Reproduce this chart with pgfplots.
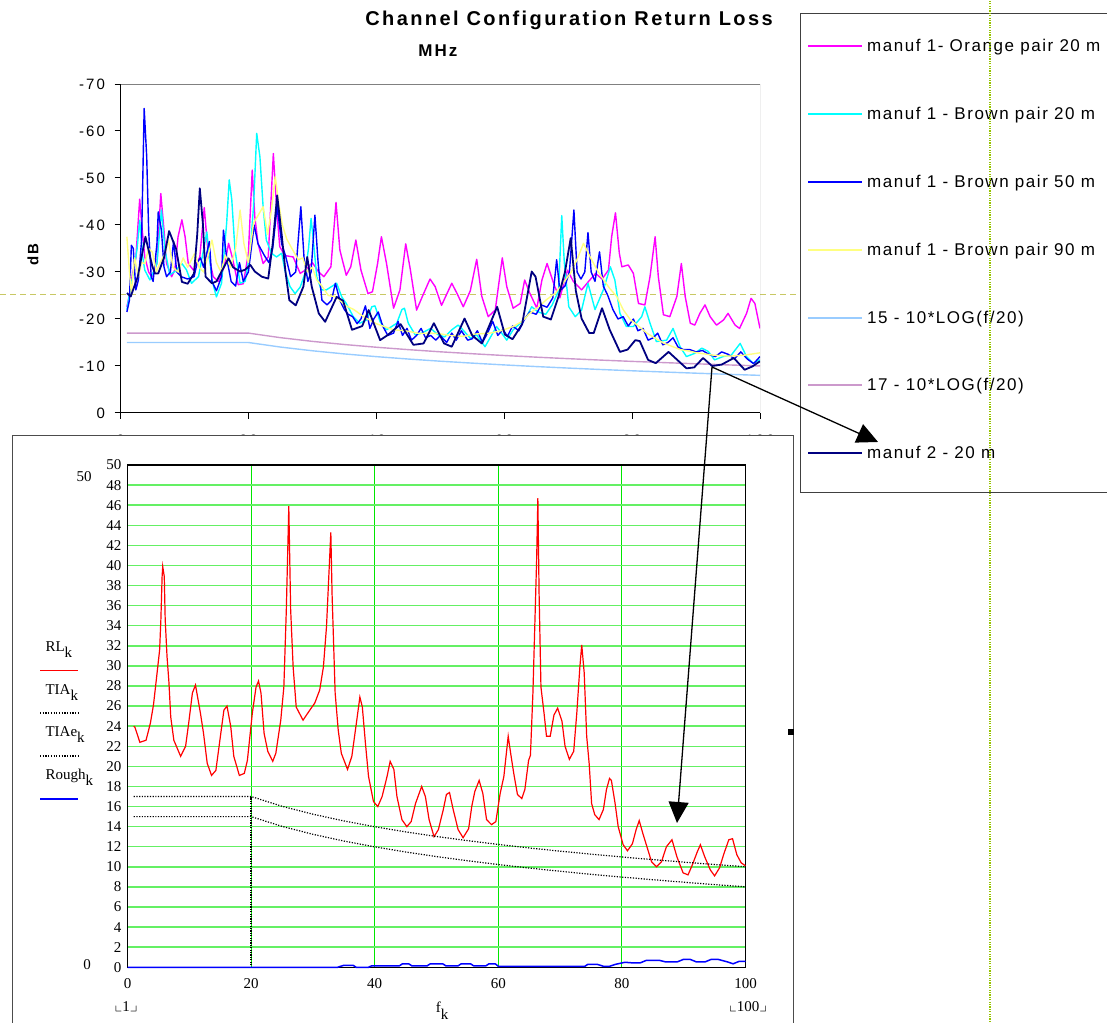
\documentclass[border=0pt]{standalone}
\usepackage{amssymb}
\usepackage{fontspec}
\usepackage{pgfplots}
\pgfplotsset{compat=1.18}
\usetikzlibrary{arrows.meta}
\setmainfont{Liberation Serif}
\newfontfamily\xls[LetterSpace=9]{Liberation Sans}
\newfontfamily\xlt[LetterSpace=12]{Liberation Sans}
\newfontfamily\xlk[LetterSpace=14]{Liberation Sans}
\definecolor{mag}{HTML}{FF00FF}
\definecolor{cyn}{HTML}{00FFFF}
\definecolor{blu}{HTML}{0000FF}
\definecolor{yel}{HTML}{FFFF80}
\definecolor{lbl}{HTML}{99CCFF}
\definecolor{plm}{HTML}{CC99CC}
\definecolor{nav}{HTML}{000080}
\definecolor{dashc}{RGB}{200,200,100}
\definecolor{vdot}{RGB}{150,195,0}
\definecolor{gvert}{RGB}{0,230,0}
\definecolor{ghor}{RGB}{100,240,100}
\begin{document}
\begin{tikzpicture}[x=1pt,y=1pt]
\useasboundingbox (0,0) rectangle (1107,1022);
% decorative dashed line
\draw[dashc, dash pattern=on 6pt off 4pt, line width=0.9pt] (0,728) -- (800,728);
% titles
\node[font=\xlt\bfseries\fontsize{20}{24}\selectfont] at (569,1002) {Channel Configuration Return Loss};
\node[font=\xlt\bfseries\fontsize{17}{20}\selectfont] at (438,971) {MHz};
\node[font=\xlt\bfseries\fontsize{15}{18}\selectfont, rotate=90] at (33,767) {dB};
% ---------------- top chart ----------------
\begin{axis}[
  at={(120.5pt,609pt)}, anchor=south west, scale only axis,
  width=639.5pt, height=329pt,
  xmin=0, xmax=100, ymin=-70, ymax=0, y dir=reverse,
  axis x line*=bottom, axis y line*=left,
  axis line style={black, line width=1pt, -},
  xtick={0,20,40,60,80,100}, ytick={-70,-60,-50,-40,-30,-20,-10,0},
  tick align=outside, major tick length=6pt,
  tick style={black, line width=1pt},
  tick label style={font=\xlk\fontsize{15}{18}\selectfont},
  /pgf/number format/assume math mode=true,
  yticklabel style={xshift=-6pt},
  xticklabel style={yshift=-12pt},
  every axis plot/.append style={line width=1.4pt, line join=round},
]
\draw[black!50, line width=1pt] (axis cs:0,-70) -- (axis cs:100,-70) -- (axis cs:100,0);
% manuf 1 - Orange pair 20 m
\addplot[mag] coordinates {(1,-22.6)(1.3,-24.5)(1.8,-29)(2.4,-33)(3.0,-45.5)(3.4,-38.9)(3.8,-33.2)(4.4,-30.0)(4.9,-29.0)(5.7,-31.8)(6.3,-46.7)(6.8,-38.9)(7.2,-31.8)(8.0,-29.0)(8.5,-30.5)(9.0,-37.5)(9.6,-41.1)(10.1,-37.5)(10.6,-31.8)(11.4,-30.4)(12.4,-33.2)(13.1,-43.7)(13.7,-34)(14.5,-29.0)(15.3,-28.0)(16.2,-31)(16.9,-36.1)(17.5,-33)(18.4,-27.3)(19.2,-27.5)(20.0,-34.0)(20.6,-51.7)(21.0,-41.8)(21.5,-36.1)(22.3,-31.8)(23.1,-33.2)(23.9,-55.2)(24.4,-43.9)(24.9,-35.4)(25.7,-33.5)(27.0,-33.2)(28.1,-29.7)(29.0,-30.5)(30.0,-32)(31.0,-30)(31.8,-29)(32.9,-31.1)(33.7,-44.8)(34.3,-34.7)(35.3,-29.3)(36.0,-31.1)(36.8,-36.8)(37.6,-30.4)(38.7,-25.4)(39.4,-25.8)(40.2,-31.8)(40.8,-37.5)(41.6,-31.8)(42.7,-22.3)(43.7,-26.2)(44.6,-36.0)(45.3,-30.7)(46.3,-21.9)(47.3,-25.1)(48.4,-28.5)(49.2,-26.9)(50.2,-22.9)(51.8,-27.6)(52.6,-25.5)(53.6,-22.6)(54.7,-26)(55.7,-32.7)(56.5,-24.8)(57.5,-20.5)(58.6,-21.9)(59.7,-33.0)(60.4,-26.9)(61.4,-22.3)(62.5,-23.3)(63.2,-28.3)(64.0,-25.5)(65.1,-22.3)(65.9,-28.3)(66.7,-31.8)(67.9,-26.9)(68.7,-24.5)(69.9,-30.4)(70.8,-28)(72.1,-26.2)(73.2,-28)(74.3,-29.7)(75.3,-28.5)(76.3,-30.4)(76.8,-37.5)(77.4,-42.6)(78.0,-34.0)(78.4,-31.1)(79.4,-31.5)(80.2,-29.7)(81.0,-23.3)(82.0,-23.0)(82.8,-29.0)(83.6,-37.5)(84.1,-29.0)(84.9,-20.9)(85.9,-20.5)(87.0,-24.8)(87.7,-31.8)(88.3,-24.8)(89.1,-19.1)(89.8,-18.7)(90.6,-21.2)(91.4,-23.0)(92.2,-20.5)(93.2,-18.7)(94.3,-19.8)(95.0,-21.2)(96.1,-18.7)(96.8,-18.0)(97.9,-21.2)(98.6,-24.4)(99.2,-23.3)(100,-18.0)};
% manuf 1 - Brown pair 20 m
\addplot[cyn] coordinates {(1,-22)(1.5,-26)(2.0,-29.7)(2.6,-35)(3.0,-41)(3.5,-33)(3.8,-30.4)(4.6,-28.3)(5.7,-31.8)(6.4,-43.2)(6.96,-34.7)(7.7,-29.4)(8.5,-30.1)(9.6,-31.8)(10.3,-30.5)(11.1,-27.6)(12.2,-29.0)(13.5,-38.5)(14.3,-28.3)(15.0,-24.7)(15.8,-27.6)(16.6,-40.4)(17.0,-49.6)(17.4,-45.4)(17.9,-34.7)(18.7,-27.6)(19.5,-28.0)(20.3,-34.7)(20.8,-43.9)(21.3,-59.5)(21.8,-54.5)(22.3,-43.9)(22.8,-36.8)(23.6,-34.0)(24.4,-33.2)(25.2,-34.0)(25.7,-30.4)(26.5,-26.9)(27.3,-25.4)(28.1,-26.8)(28.85,-29.7)(29.4,-35)(29.8,-41.4)(30.1,-37.5)(30.7,-28.9)(31.4,-26.2)(32.2,-26.2)(33.0,-26.9)(33.8,-27.6)(34.6,-24.7)(35.3,-23.3)(36.4,-20.5)(37.4,-19.1)(38.5,-19.8)(39.3,-22.6)(39.8,-22.8)(40.6,-19.4)(41.6,-17.7)(43.2,-19.1)(44.0,-22.0)(44.4,-22.3)(45.0,-19.1)(46.1,-16.6)(47.1,-17.0)(48.5,-18)(49.7,-16.6)(50.7,-16.2)(51.8,-17.7)(52.8,-18.7)(53.6,-17.6)(54.7,-15.9)(55.7,-16.6)(57.0,-14.1)(58.8,-18.4)(59.6,-17.0)(60.4,-15.5)(61.4,-17.7)(62.5,-19.1)(63.5,-20.5)(64.3,-22.6)(65.3,-21.5)(66.5,-21)(67.5,-23)(68.5,-26)(69.0,-42.0)(69.4,-32)(70.1,-22.6)(71.1,-20.5)(72.1,-21.9)(73.1,-27.6)(74.2,-22.0)(75.5,-26.2)(76.6,-31.1)(77.3,-28.3)(78.1,-21.2)(79.1,-18.4)(80.2,-18.4)(81.5,-20.5)(82.0,-22.6)(82.8,-19.1)(83.8,-15.2)(85.4,-15.5)(86.4,-18.0)(87.5,-14.1)(88.5,-12.0)(89.8,-12.7)(90.9,-13.8)(91.9,-13.1)(92.9,-11.3)(94.2,-12.0)(95.5,-12.3)(96.9,-14.8)(97.9,-12.0)(98.9,-10.6)(100,-11.3)};
% manuf 1 - Brown pair 50 m
\addplot[blu] coordinates {(1,-21.5)(1.4,-24)(1.7,-35.7)(2.0,-35)(2.4,-26.2)(2.8,-28.3)(3.3,-36.8)(3.7,-64.8)(4.1,-54.5)(4.4,-38.9)(4.8,-29.0)(5.1,-28.0)(5.7,-36.1)(5.9,-42.8)(6.4,-38.9)(6.8,-31.1)(7.2,-29.0)(7.8,-30)(8.3,-36.5)(8.8,-30)(9.5,-29)(10.5,-28.5)(11.5,-29)(12.0,-32)(12.5,-33)(13.0,-31)(13.9,-36.5)(14.3,-28)(15.0,-26)(15.8,-29)(16.1,-38.9)(16.6,-33)(17.3,-28)(18.0,-27)(18.6,-32)(19.2,-28)(20.0,-30)(20.9,-40)(21.5,-36)(22.5,-33.5)(23.2,-32)(23.8,-35)(24.5,-44)(25.2,-36)(25.8,-33.5)(26.6,-29)(27.4,-30)(28.2,-43.9)(28.7,-33)(29.3,-28)(29.8,-30)(30.4,-42.1)(30.9,-32)(31.5,-24)(32.3,-23)(33.0,-24)(33.6,-27.6)(34.3,-24)(35.0,-22)(35.6,-21)(36.3,-20.5)(37.0,-19)(37.6,-20)(38.3,-22.8)(39.0,-18)(39.6,-20)(40.3,-21.5)(41.0,-18.5)(41.8,-16.5)(42.7,-17)(43.4,-19.5)(44.1,-16.5)(44.8,-18)(45.5,-15.5)(46.3,-16.5)(47.0,-18)(47.7,-16)(48.5,-16.5)(49.3,-15.5)(50.0,-16.5)(51.0,-15)(51.8,-17)(52.5,-15.5)(53.3,-17.5)(54.3,-15.5)(55.0,-15.8)(55.8,-17.5)(56.6,-15)(57.4,-17)(58.2,-19.5)(59.0,-16.5)(59.8,-17.8)(60.5,-16.3)(61.3,-18.5)(62.3,-17.5)(63.2,-20)(64.0,-21.5)(65.0,-21)(65.8,-23)(66.7,-22.5)(67.6,-24.5)(68.2,-32.6)(68.7,-26)(69.5,-27)(70.2,-30)(70.9,-43.2)(71.4,-30)(72.0,-28.5)(72.6,-30)(73.1,-38.4)(73.6,-30)(74.2,-28)(74.9,-34.3)(75.5,-27)(76.2,-25)(77.0,-22)(77.8,-20)(78.6,-20.5)(79.4,-18.5)(80.2,-20)(80.9,-17.5)(81.7,-18)(82.5,-15.5)(83.3,-16)(84.0,-17)(84.8,-14.5)(85.6,-15)(86.4,-16)(87.2,-14)(88.0,-13.5)(89.0,-13.5)(90.0,-13)(91.0,-13.3)(92.0,-12.5)(93.0,-12)(94.0,-13)(95.0,-12.5)(96.0,-11.5)(97.0,-13)(98.0,-11.5)(99.0,-10.5)(100,-12)};
% manuf 1 - Brown pair 90 m
\addplot[yel] coordinates {(1,-37.5)(1.4,-30)(1.7,-25.5)(2.2,-33)(2.8,-29)(3.3,-32)(3.8,-31.8)(4.4,-35)(5.0,-34.2)(5.6,-30)(6.2,-32)(7.0,-34)(7.5,-36.8)(8.2,-31)(9.0,-30)(9.8,-33)(10.5,-31)(11.6,-34.0)(12.3,-31)(13.0,-30)(13.6,-33)(14.3,-36.8)(15.0,-32)(15.7,-30)(16.4,-33.5)(17.2,-31)(18.0,-35)(18.7,-43.2)(19.3,-36)(20.0,-32)(20.8,-40.4)(21.5,-42)(22.3,-43.9)(23.0,-38)(23.6,-43.2)(24.2,-50.3)(24.7,-45)(25.3,-40)(26.0,-37)(26.8,-35)(27.8,-32.6)(28.5,-33)(29.2,-30)(30.0,-31)(30.7,-28.3)(31.5,-27)(32.5,-25)(33.8,-24.7)(35.0,-23)(36.5,-22)(38.0,-20.5)(40.0,-19)(42.7,-17.7)(44.5,-17.5)(46.8,-16.9)(48.4,-17.0)(49.7,-16.9)(51.5,-16.5)(53.6,-16.3)(55.5,-16.8)(57.8,-17.0)(59.5,-17.5)(61.4,-18.4)(62.8,-19.5)(64.0,-21.2)(65.3,-22.5)(66.6,-24.1)(68.0,-25.5)(69.2,-27.6)(70.5,-30)(71.5,-33)(72.4,-36.1)(73.4,-33.3)(74.5,-30.5)(75.5,-28.4)(76.5,-26.5)(77.6,-24.8)(78.6,-22)(79.7,-19.9)(81.0,-18.5)(82.3,-17.0)(83.5,-16)(84.9,-14.9)(86.2,-14.2)(87.5,-13.5)(88.8,-13.2)(90.1,-12.8)(92.7,-12.3)(95.3,-12.1)(97.5,-12.3)(100,-12.8)};
% 15 - 10*LOG(f/20)
\addplot[lbl] coordinates {(1,-15)(20,-15)(25,-14.03)(30,-13.24)(35,-12.57)(40,-11.99)(45,-11.48)(50,-11.02)(55,-10.61)(60,-10.23)(65,-9.88)(70,-9.56)(75,-9.26)(80,-8.98)(85,-8.72)(90,-8.47)(95,-8.23)(100,-8.01)};
% 17 - 10*LOG(f/20)
\addplot[plm] coordinates {(1,-17)(20,-17)(25,-16.03)(30,-15.24)(35,-14.57)(40,-13.99)(45,-13.48)(50,-13.02)(55,-12.61)(60,-12.23)(65,-11.88)(70,-11.56)(75,-11.26)(80,-10.98)(85,-10.72)(90,-10.47)(95,-10.23)(100,-10.01)};
% manuf 2 - 20 m
\addplot[nav, line width=1.8pt] coordinates {(1,-25.5)(1.6,-24.8)(2.7,-29.0)(3.9,-37.5)(5.0,-31.1)(5.4,-29.7)(5.9,-29.7)(6.8,-33)(7.6,-38.7)(8.7,-34.9)(9.6,-27.9)(10.5,-27.5)(11.5,-29.7)(12.0,-38)(12.4,-47.8)(12.9,-40)(13.3,-29)(14.3,-27.6)(15.0,-28)(15.8,-30.1)(16.9,-32.9)(17.6,-31)(18.7,-30.1)(19.5,-30.5)(20.3,-31.5)(21.0,-30.1)(22.1,-29.0)(23.1,-28.6)(23.8,-36)(24.5,-46.3)(25.2,-38)(25.8,-30)(26.4,-24.0)(27.4,-22.9)(28.6,-26.9)(29.2,-33.2)(29.9,-26.9)(31.0,-21.2)(32.0,-19.4)(33.8,-24.7)(34.8,-23.9)(36.2,-17.7)(37.8,-18.5)(38.8,-21.9)(40.6,-15.5)(41.8,-16.6)(43.8,-18.9)(45.8,-14.5)(47.4,-14.8)(49.0,-19.1)(50.6,-14.8)(51.8,-14.1)(53.8,-20.1)(55.0,-16.5)(56.5,-14.8)(58.9,-22.6)(60.1,-16.7)(61.3,-15.7)(62.8,-18.9)(64.3,-30.1)(64.9,-29.0)(66.1,-20.5)(67.3,-19.9)(68.5,-24.8)(69.5,-30)(70.4,-37.2)(71.2,-26.0)(72.1,-20.1)(73.3,-17.0)(74.0,-17.0)(75.3,-22.3)(76.5,-17.7)(78.1,-13.0)(79.3,-13.5)(80.5,-15.5)(81.2,-15.3)(82.5,-11.3)(83.7,-10.6)(85.7,-13.0)(86.9,-11.5)(88.5,-9.5)(89.7,-9.7)(91.1,-11.7)(92.5,-10.0)(94.0,-10.3)(95.9,-11.7)(97.6,-9.2)(98.8,-9.9)(100,-11.0)};
\end{axis}
% ---------------- bottom panel ----------------
\fill[white] (12,-5) rectangle (793,587);
\draw[black!70, line width=0.9pt] (12,-5) -- (12,587) -- (793,587) -- (793,-5);
\begin{axis}[
  at={(127.5pt,54.7pt)}, anchor=south west, scale only axis,
  width=618pt, height=502.3pt,
  xmin=0, xmax=100, ymin=0, ymax=50,
  xtick={0,20,40,60,80,100}, ytick={0,2,...,50},
  major tick length=0pt,
  xmajorgrids, ymajorgrids,
  x grid style={gvert, line width=1.1pt},
  y grid style={ghor, line width=1.5pt},
  axis line style={black, line width=1.2pt},
  tick label style={font=\fontsize{15}{17}\selectfont},
  /pgf/number format/assume math mode=true,
  yticklabel style={xshift=-2.5pt},
  xticklabel style={yshift=-8pt},
  clip=false,
]
% RL_k
\addplot[red, line width=1.2pt] coordinates {(1,24)(1.2,23.9)(2.0,22.4)(3.0,22.6)(3.7,24.3)(4.2,26.1)(4.75,29.1)(5.2,31.6)(5.4,34.6)(5.6,38.9)(5.7,39.9)(5.95,38.9)(6.1,34.6)(6.4,30.9)(6.7,28.4)(7.0,24.9)(7.5,22.6)(8.6,21.0)(9.4,22.0)(9.9,24.3)(10.5,27.3)(11.0,28.1)(11.8,25.3)(12.3,23.3)(12.9,20.3)(13.6,19.1)(14.3,19.6)(15.1,23.3)(15.6,25.6)(16.1,26.0)(16.7,24.0)(17.2,21.0)(18.1,19.1)(18.9,19.3)(19.4,20.6)(20.2,25.3)(20.8,27.9)(21.2,28.5)(21.6,27.3)(22.1,23.3)(22.7,21.5)(23.5,20.5)(24.0,21.3)(24.8,24.6)(25.3,27.9)(25.7,35.6)(26.1,45.9)(26.4,35.6)(26.8,29.9)(27.3,25.9)(28.4,24.6)(29.5,25.6)(30.3,26.3)(31.1,27.6)(31.7,29.9)(32.2,33.9)(32.9,43.3)(33.1,37.2)(33.6,27.3)(34.1,23.6)(34.6,21.3)(35.6,19.7)(36.3,21.0)(37.1,24.6)(37.6,26.9)(38.0,25.9)(38.5,22.3)(39.0,19.0)(39.8,16.5)(40.5,16.0)(41.2,17.0)(42.0,19.0)(42.5,20.5)(43.1,19.7)(43.6,17.0)(44.4,14.7)(45.2,14.0)(45.9,14.5)(46.6,16.3)(47.6,18.0)(48.2,17.0)(48.8,14.7)(49.6,13.0)(50.3,13.7)(51.1,15.7)(51.6,17.2)(52.1,17.4)(52.7,15.7)(53.5,13.7)(54.3,12.9)(55.2,13.8)(55.7,16.0)(56.2,17.5)(56.9,18.6)(57.5,17.3)(58.1,14.7)(58.9,14.2)(59.6,14.5)(60.3,17.3)(60.9,19.0)(61.6,23.0)(62.0,21.3)(62.5,19.3)(63.1,17.2)(63.8,16.8)(64.3,17.7)(64.9,20.6)(65.2,21.1)(65.6,27.3)(65.9,33.9)(66.2,40.5)(66.4,46.7)(66.6,37.2)(66.9,27.9)(67.4,25.3)(67.8,23.0)(68.4,23.0)(69.0,25.1)(69.6,25.8)(70.3,24.5)(70.8,22.0)(71.5,20.7)(72.2,21.5)(72.7,25.3)(73.2,29.9)(73.5,32.1)(73.9,29.3)(74.3,23.0)(74.7,20.3)(75.1,16.3)(75.6,15.2)(76.3,14.7)(77.0,15.7)(77.5,17.7)(78.0,18.8)(78.3,18.6)(78.9,16.3)(79.4,14.0)(80.2,12.2)(80.9,11.6)(81.7,12.3)(82.3,13.7)(82.8,14.6)(83.4,13.3)(84.2,11.7)(84.8,10.5)(85.6,10.0)(86.4,10.5)(87.2,12.0)(88.1,12.7)(88.9,11.0)(89.9,9.4)(90.7,9.2)(91.4,10.2)(92.2,11.5)(92.7,12.2)(93.4,11.0)(94.3,9.7)(95.0,9.1)(95.8,9.9)(96.5,11.3)(97.3,12.7)(97.9,12.8)(98.6,11.2)(99.3,10.4)(100,10.1)};
% TIA_k
\addplot[black, line width=1.2pt, dash pattern=on 1.2pt off 1.5pt] coordinates {(1,15)(20,15)(25,14.03)(30,13.24)(35,12.57)(40,11.99)(45,11.48)(50,11.02)(55,10.61)(60,10.23)(65,9.88)(70,9.56)(75,9.26)(80,8.98)(85,8.72)(90,8.47)(95,8.23)(100,8.01)};
% TIAe_k
\addplot[black, line width=1.2pt, dash pattern=on 1.2pt off 1.5pt] coordinates {(1,17)(20,17)(25,16.03)(30,15.24)(35,14.57)(40,13.99)(45,13.48)(50,13.02)(55,12.61)(60,12.23)(65,11.88)(70,11.56)(75,11.26)(80,10.98)(85,10.72)(90,10.47)(95,10.23)(100,10.01)};
\addplot[black, line width=1.8pt, dash pattern=on 1.2pt off 1.2pt] coordinates {(20,0.2)(20,17)};
% Rough_k
\addplot[blu, line width=1.5pt] coordinates {(0,0)(34,0)(35,0.2)(36.5,0.2)(37,0)(39,0)(39.5,0.15)(44,0.15)(44.5,0.35)(45.5,0.35)(46,0.15)(48.5,0.15)(49,0.35)(51,0.35)(51.5,0.15)(53.5,0.15)(54,0.35)(55.5,0.35)(56,0.15)(58,0.15)(58.5,0.35)(59.5,0.35)(60,0.1)(74,0.1)(74.5,0.3)(76,0.3)(77,0.1)(78,0.1)(79,0.3)(80.5,0.5)(81.5,0.45)(83,0.45)(84,0.7)(86,0.7)(87,0.55)(89,0.55)(90,0.8)(91,0.8)(92,0.55)(93.5,0.55)(94.5,0.8)(95.5,0.8)(97,0.55)(98,0.35)(99,0.6)(100,0.6)};
\end{axis}
% Mathcad-style annotations
\node[font=\fontsize{15}{17}\selectfont] at (84,545) {50};
\node[font=\fontsize{15}{17}\selectfont] at (87,57) {0};
\node[font=\fontsize{15}{17}\selectfont] at (126,15) {$\llcorner$1$\lrcorner$};
\node[font=\fontsize{15}{17}\selectfont] at (748,15) {$\llcorner$100$\lrcorner$};
\node[font=\fontsize{15}{17}\selectfont, anchor=base] at (442,10) {f\raisebox{-7pt}{k}};
\node[font=\fontsize{15}{17}\selectfont, anchor=base west] at (42,370) {RL\raisebox{-6pt}{k}};
\draw[red, line width=1.2pt] (40,351.3) -- (78,351.3);
\node[font=\fontsize{15}{17}\selectfont, anchor=base west] at (42,327) {TIA\raisebox{-6pt}{k}};
\draw[black, line width=1.2pt, dash pattern=on 1.2pt off 1.5pt] (40,309) -- (78,309);
\node[font=\fontsize{15}{17}\selectfont, anchor=base west] at (42,285) {TIAe\raisebox{-6pt}{k}};
\draw[black, line width=1.2pt, dash pattern=on 1.2pt off 1.5pt] (40,266) -- (78,266);
\node[font=\fontsize{15}{17}\selectfont, anchor=base west] at (42,242) {Rough\raisebox{-6pt}{k}};
\draw[blu, line width=1.2pt] (40,223) -- (78,223);
\fill[black] (788,287) rectangle (794,293);
% ---------------- top chart legend ----------------
\fill[white] (800,530) rectangle (1130,1009);
\draw[black!75, line width=0.9pt] (1130,530) -- (800,530) -- (800,1009) -- (1130,1009);
\begin{scope}[every node/.style={anchor=base west, font=\xls\fontsize{17}{20}\selectfont, inner sep=0pt}]
\draw[mag, line width=1.2pt] (808,976) -- (862,976); \node at (867,970) {manuf 1- Orange pair 20 m};
\draw[cyn, line width=1.2pt] (808,908) -- (862,908); \node at (867,902) {manuf 1 - Brown pair 20 m};
\draw[blu, line width=1.2pt] (808,840) -- (862,840); \node at (867,834) {manuf 1 - Brown pair 50 m};
\draw[yel, line width=1.2pt] (808,772) -- (862,772); \node at (867,766) {manuf 1 - Brown pair 90 m};
\draw[lbl, line width=1.2pt] (808,704) -- (862,704); \node at (867,698) {15 - 10*LOG(f/20)};
\draw[plm, line width=1.2pt] (808,637) -- (862,637); \node at (867,631) {17 - 10*LOG(f/20)};
\draw[nav, line width=1.2pt] (808,569) -- (862,569); \node at (867,563) {manuf 2 - 20 m};
\end{scope}
% arrows
\draw[black, line width=1.3pt, -{Triangle[length=21pt,width=20pt]}] (712,655) -- (677,199);
\draw[black, line width=1.3pt, -{Triangle[length=21pt,width=20pt]}] (712,655) -- (878,580);
% dotted vertical guide
\draw[vdot, line width=1.3pt, dash pattern=on 1.2pt off 1.2pt] (990,0) -- (990,1022);
\end{tikzpicture}
\end{document}
